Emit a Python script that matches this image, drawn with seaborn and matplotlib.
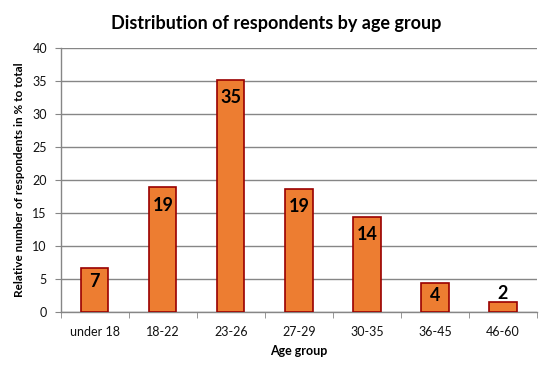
import matplotlib.pyplot as plt
import seaborn as sns
import pandas as pd

# data
age_groups = ['under 18', '18-22', '23-26', '27-29', '30-35', '36-45', '46-60']
shares = [6.6, 18.9, 35.2, 18.7, 14.4, 4.4, 1.5]
labels = ['7', '19', '35', '19', '14', '4', '2']

df = pd.DataFrame({'age': age_groups, 'share': shares})

sns.set_style('white')
plt.rcParams['font.family'] = ['Lato', 'DejaVu Sans']

fig = plt.figure(figsize=(5.53, 3.75), dpi=100)
ax = fig.add_axes([0.110, 0.168, 0.861, 0.704])

sns.barplot(data=df, x='age', y='share', color='#ED7D31', saturation=1,
            width=0.4, edgecolor='#990000', linewidth=1.2, ax=ax, zorder=3)

# data labels inside the bar top (outside for very small bars)
for i, (v, t) in enumerate(zip(shares, labels)):
    if v > 10:
        off = -18
    elif v > 3:
        off = -13
    else:
        off = 9
    ax.annotate(t, (i, v), xytext=(0, off), textcoords='offset pixels',
                ha='center', va='center', fontsize=13, fontweight='bold', color='black', zorder=4)

ax.set_ylim(0, 40)
ax.set_xlim(-0.5, len(age_groups) - 0.5)
ax.set_yticks(range(0, 41, 5))
ax.yaxis.grid(True, color='#868686', linewidth=1, zorder=0)
ax.xaxis.grid(False)

# x tick marks sit on the category boundaries
ax.set_xticks([i - 0.5 for i in range(len(age_groups) + 1)], minor=True)
ax.tick_params(axis='x', which='major', length=0, pad=10, labelsize=9, colors='#111111')
ax.tick_params(axis='x', which='minor', length=4, color='#868686', direction='out', bottom=True)
ax.tick_params(axis='y', length=4, color='#868686', direction='out', left=True,
               labelsize=9, colors='#111111', pad=6)

for s in ['top', 'right']:
    ax.spines[s].set_visible(False)
for s in ['left', 'bottom']:
    ax.spines[s].set_color('#868686')
    ax.spines[s].set_linewidth(1)

ax.set_xlabel('Age group', fontsize=9, fontweight='bold', labelpad=5, color='black')
ax.set_ylabel('Relative number of respondents in % to total', fontsize=8.5, fontweight='bold',
              labelpad=5, color='black')
fig.suptitle('Distribution of respondents by age group', x=0.5, y=0.96,
             fontsize=13, fontweight='bold', color='black')

fig.savefig('out.png', dpi=100)
